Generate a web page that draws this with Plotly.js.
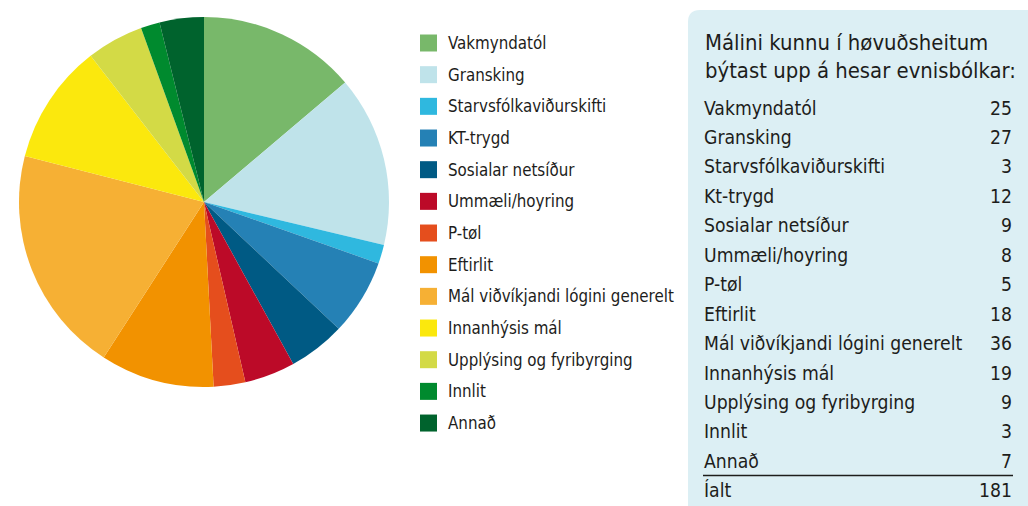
<!DOCTYPE html>
<html>
<head>
<meta charset="utf-8">
<script src="https://cdn.plot.ly/plotly-3.0.1.min.js"></script>
<style>html,body{margin:0;padding:0;background:#fff;}#chart{width:1028px;height:506px;}</style>
</head>
<body>
<div id="chart"></div>
<script>
const labels = ["Vakmyndatól","Gransking","Starvsfólkaviðurskifti","KT-trygd","Sosialar netsíður","Ummæli/hoyring","P-tøl","Eftirlit","Mál viðvíkjandi lógini generelt","Innanhýsis mál","Upplýsing og fyribyrging","Innlit","Annað"];
const tableLabels = ["Vakmyndatól","Gransking","Starvsfólkaviðurskifti","Kt-trygd","Sosialar netsíður","Ummæli/hoyring","P-tøl","Eftirlit","Mál viðvíkjandi lógini generelt","Innanhýsis mál","Upplýsing og fyribyrging","Innlit","Annað"];
const values = [25,27,3,12,9,8,5,18,36,19,9,3,7];
const colors = ["#78b86a","#bfe3ea","#2fb8df","#2581b5","#005a84","#bc0a28","#e54e1d","#f29200","#f6b034","#fbe80d","#d3da46","#008a2e","#00632d"];
const tableTitle = "Málini kunnu í høvuðsheitum<br>býtast upp á hesar evnisbólkar:";
const totalLabel = "Íalt";

const W = 1028, H = 506;
const px = x => x / W;
const py = y => 1 - y / H;
const FONT = '"Liberation Sans Narrow", "DejaVu Sans Condensed", "Liberation Sans", sans-serif';
const TXT = '#1d1d1b';

const trace = {
  type: 'pie',
  labels: labels,
  values: values,
  sort: false,
  direction: 'clockwise',
  rotation: 0,
  textinfo: 'none',
  hoverinfo: 'label+value+percent',
  marker: {colors: colors, line: {width: 0}},
  domain: {x: [px(19), px(389)], y: [py(387), py(17)]},
  showlegend: false
};

const shapes = [];
const annotations = [];

// legend (built from labels / colors)
const legTop = 43, legStep = 31.67;
labels.forEach((lab, i) => {
  const yc = legTop + i * legStep;
  shapes.push({type: 'rect', xref: 'paper', yref: 'paper',
    x0: px(420), x1: px(437), y0: py(yc - 8.5), y1: py(yc + 8.5),
    fillcolor: colors[i], line: {width: 0}});
  annotations.push({xref: 'paper', yref: 'paper', x: px(446), y: py(yc), xanchor: 'left', yanchor: 'middle',
    text: lab, showarrow: false, font: {family: FONT, size: 16.8, color: TXT}});
});

// rounded info box
const bx0 = 688, by0 = 10, bx1 = 1040, by1 = 520, r = 12;
shapes.push({
  type: 'path', xref: 'paper', yref: 'paper', layer: 'below',
  path: `M ${px(bx0)},${py(by0 + r)} Q ${px(bx0)},${py(by0)} ${px(bx0 + r)},${py(by0)} L ${px(bx1)},${py(by0)} L ${px(bx1)},${py(by1)} L ${px(bx0)},${py(by1)} Z`,
  fillcolor: '#dceff4', line: {width: 0}
});
annotations.push({
  xref: 'paper', yref: 'paper', x: px(703), y: py(56), xanchor: 'left', yanchor: 'middle',
  text: tableTitle, showarrow: false, align: 'left',
  font: {family: FONT, size: 21.9, color: TXT}
});
const rowTop = 108, rowStep = 29.45;
const rowsL = tableLabels.concat([totalLabel]);
const total = values.reduce((a, b) => a + b, 0);
const rowsV = values.concat([total]);
rowsL.forEach((lab, i) => {
  const y = rowTop + i * rowStep;
  annotations.push({xref: 'paper', yref: 'paper', x: px(702), y: py(y), xanchor: 'left', yanchor: 'middle',
    text: lab, showarrow: false, font: {family: FONT, size: 19.2, color: TXT}});
  annotations.push({xref: 'paper', yref: 'paper', x: px(1014), y: py(y), xanchor: 'right', yanchor: 'middle',
    text: String(rowsV[i]), showarrow: false, font: {family: FONT, size: 19.2, color: TXT}});
});
shapes.push({type: 'line', xref: 'paper', yref: 'paper', x0: px(703), x1: px(1013), y0: py(475.5), y1: py(475.5),
  line: {color: '#1d1d1b', width: 1.3}});

const layout = {
  width: W, height: H,
  margin: {l: 0, r: 0, t: 0, b: 0},
  paper_bgcolor: '#ffffff',
  showlegend: false,
  shapes: shapes,
  annotations: annotations
};
Plotly.newPlot('chart', [trace], layout, {displayModeBar: false, staticPlot: true});
</script>
</body>
</html>
